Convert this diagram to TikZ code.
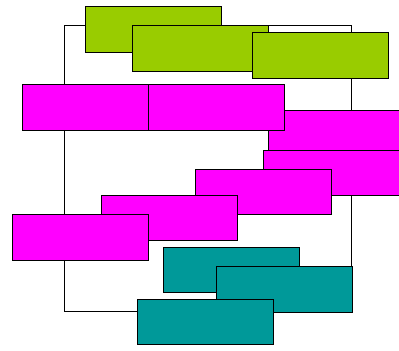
\documentclass[tikz,border=0pt]{standalone}
\usepackage{xcolor}
\usepackage{tikz}
\usetikzlibrary{positioning}

\definecolor{limegreen}{HTML}{99CC00}
\definecolor{hotpink}{HTML}{FF00FF}
\definecolor{tealbox}{HTML}{009999}

\begin{document}
\begin{tikzpicture}[
  x=0.75pt, y=-0.75pt,
  box/.style={draw=black, rectangle, line width=0.7pt, anchor=north west, inner sep=0pt, minimum width=102pt, minimum height=34.2pt},
  lime/.style={box, fill=limegreen},
  pink/.style={box, fill=hotpink},
  cyan/.style={box, fill=tealbox},
  frame/.style={draw=black, line width=0.7pt}
]
\useasboundingbox (0,0) rectangle (399,350);

% Frame behind the boxes
\coordinate (frameTL) at (64,25.3);
\coordinate (frameBR) at (351.7,311.7);
\draw[frame] (frameTL) rectangle (frameBR);

% Level 1: green boxes
\node[lime] (lime1) at (85,6) {};
\node[lime] (lime2) at (132.3,25.3) {};
\node[lime] (lime3) at (252.3,32.3) {};

% Level 2: magenta boxes
\node[pink] (pink1) at (22.3,84.3) {};
\node[pink] (pink3) at (268.3,110) {};
\node[pink] (pink2) at (148,84.3) {};
\node[pink] (pink4) at (262.7,149.7) {};
\node[pink] (pink5) at (195,168.7) {};
\node[pink] (pink6) at (100.7,194.7) {};
\node[pink] (pink7) at (12,214.3) {};

% Level 3: teal boxes
\node[cyan] (teal1) at (163.3,246.7) {};
\node[cyan] (teal2) at (215.7,266.3) {};
\node[cyan] (teal3) at (137.3,298.7) {};

\end{tikzpicture}
\end{document}
